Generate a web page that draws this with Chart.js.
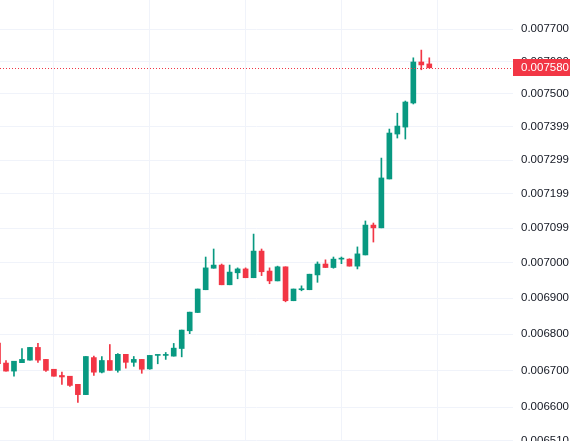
<!DOCTYPE html>
<html>
<head>
<meta charset="utf-8">
<script src="https://cdn.jsdelivr.net/npm/chart.js@4.4.0/dist/chart.umd.min.js"></script>
<style>
  html, body { margin: 0; padding: 0; background: #ffffff; }
  #wrap { width: 570px; height: 441px; position: relative; }
</style>
</head>
<body>
<div id="wrap"><canvas id="myChart"></canvas></div>
<script>
// candle index (one bar per period), -1 is the half-hidden one on the left edge
var candleIndex = [-1, 0, 1, 2, 3, 4, 5, 6, 7, 8, 9, 10, 11, 12, 13, 14, 15, 16, 17, 18, 19,
  20, 21, 22, 23, 24, 25, 26, 27, 28, 29, 30, 31, 32, 33, 34, 35, 36, 37, 38, 39,
  40, 41, 42, 43, 44, 45, 46, 47, 48, 49, 50, 51, 52, 53];

var opens = [0.006775, 0.006720, 0.006698, 0.006721, 0.006728, 0.006763, 0.006730, 0.006703, 0.006686, 0.006684, 0.006662,
  0.006634, 0.006735, 0.006695, 0.006727, 0.006700, 0.006744, 0.006722, 0.006730, 0.006704, 0.006741,
  0.006741, 0.006739, 0.006760, 0.006809, 0.006860, 0.006924, 0.006985, 0.006994, 0.006938, 0.006972,
  0.006983, 0.006958, 0.007034, 0.006977, 0.006949, 0.006989, 0.006893, 0.006924, 0.006924, 0.006966,
  0.006997, 0.006987, 0.007011, 0.007011, 0.006991, 0.007023, 0.007109, 0.007101, 0.007244, 0.007378,
  0.007399, 0.007472, 0.007598, 0.007592];
var highs = [0.006776, 0.006727, 0.006725, 0.006760, 0.006763, 0.006774, 0.006730, 0.006703, 0.006695, 0.006684, 0.006662,
  0.006738, 0.006739, 0.006738, 0.006771, 0.006746, 0.006744, 0.006738, 0.006730, 0.006741, 0.006742,
  0.006749, 0.006774, 0.006811, 0.006861, 0.006926, 0.007017, 0.007040, 0.006997, 0.006994, 0.006986,
  0.006986, 0.007083, 0.007040, 0.006986, 0.006991, 0.006989, 0.006926, 0.006935, 0.006968, 0.007003,
  0.007009, 0.007017, 0.007017, 0.007012, 0.007046, 0.007121, 0.007115, 0.007306, 0.007393, 0.007441,
  0.007478, 0.007611, 0.007635, 0.007611];
var lows = [0.006718, 0.006698, 0.006684, 0.006721, 0.006728, 0.006722, 0.006697, 0.006684, 0.006662, 0.006656, 0.006613,
  0.006634, 0.006686, 0.006693, 0.006700, 0.006695, 0.006706, 0.006711, 0.006692, 0.006703, 0.006718,
  0.006730, 0.006739, 0.006737, 0.006801, 0.006860, 0.006924, 0.006985, 0.006938, 0.006938, 0.006955,
  0.006958, 0.006958, 0.006964, 0.006941, 0.006949, 0.006890, 0.006893, 0.006921, 0.006924, 0.006945,
  0.006987, 0.006985, 0.006998, 0.006991, 0.006983, 0.007023, 0.007060, 0.007101, 0.007244, 0.007366,
  0.007363, 0.007469, 0.007574, 0.007580];
var closes = [0.006718, 0.006698, 0.006725, 0.006730, 0.006763, 0.006728, 0.006700, 0.006684, 0.006682, 0.006659, 0.006634,
  0.006738, 0.006695, 0.006727, 0.006700, 0.006744, 0.006722, 0.006730, 0.006703, 0.006741, 0.006742,
  0.006742, 0.006761, 0.006811, 0.006861, 0.006926, 0.006986, 0.006994, 0.006938, 0.006974, 0.006983,
  0.006958, 0.007034, 0.006975, 0.006949, 0.006989, 0.006893, 0.006926, 0.006925, 0.006968, 0.006997,
  0.006987, 0.007011, 0.007012, 0.006991, 0.007026, 0.007109, 0.007101, 0.007247, 0.007381, 0.007402,
  0.007475, 0.007598, 0.007589, 0.007580];

// price axis (log scale, tradingview-style rounding on the labels)
var yTickValues = [0.00651, 0.0066, 0.0067, 0.0068, 0.0069, 0.007, 0.0071, 0.0072, 0.0073, 0.0074, 0.0075, 0.0076, 0.0077];
var yTickLabels = ['0.006510', '0.006600', '0.006700', '0.006800', '0.006900', '0.007000', '0.007099',
  '0.007199', '0.007299', '0.007399', '0.007500', '0.007600', '0.007700'];
// vertical time grid lines fall on these candles
var timeGridCandles = [6, 18, 30, 42, 54];

var upColor = '#089981';
var downColor = '#f23645';
var gridColor = '#f0f3fa';
var lastPrice = closes[closes.length - 1];

let wickData = [];
let bodyData = [];
let candleColors = [];
candleIndex.forEach((x, i) => {
  wickData.push({ x: x, y: [lows[i], highs[i]] });
  bodyData.push({ x: x, y: [opens[i], closes[i]] });
  candleColors.push(closes[i] >= opens[i] ? upColor : downColor);
});

/* last price: dotted line across the pane + red tag on the axis */
const lastPriceTag = {
  id: 'lastPriceTag',
  afterDatasetsDraw(chart) {
    const ctx = chart.ctx;
    const y = Math.round(chart.scales.y.getPixelForValue(lastPrice)) + 0.5;
    ctx.save();
    ctx.strokeStyle = downColor;
    ctx.lineWidth = 1;
    ctx.setLineDash([1, 2]);
    ctx.beginPath();
    ctx.moveTo(chart.chartArea.left, y);
    ctx.lineTo(chart.chartArea.right, y);
    ctx.stroke();
    ctx.restore();
  },
  afterDraw(chart) {
    const ctx = chart.ctx;
    const y = chart.scales.y.getPixelForValue(lastPrice);
    const left = chart.chartArea.right;
    ctx.save();
    ctx.fillStyle = downColor;
    ctx.fillRect(left, Math.round(y - 8.5), chart.width - left, 17);
    ctx.fillStyle = '#ffffff';
    ctx.font = '11.5px "Liberation Sans", Arial, sans-serif';
    ctx.textBaseline = 'middle';
    ctx.textAlign = 'left';
    ctx.fillText(lastPrice.toFixed(6), left + 8, y);
    ctx.restore();
  }
};

let ctx = document.getElementById('myChart');

let candleChart = new Chart(ctx, {
  type: 'bar',
  data: {
    datasets: [{
      label: 'wick',
      data: wickData,
      backgroundColor: candleColors,
      barThickness: 1,
      minBarLength: 1,
      order: 2
    }, {
      label: 'body',
      data: bodyData,
      backgroundColor: candleColors,
      barThickness: 5,
      minBarLength: 1,
      order: 1
    }]
  },
  options: {
    responsive: true,
    maintainAspectRatio: false,
    animation: false,
    layout: { padding: 0 },
    datasets: { bar: { grouped: false, borderWidth: 0 } },
    plugins: {
      legend: { display: false },
      tooltip: { enabled: false }
    },
    scales: {
      x: {
        type: 'linear',
        min: -0.751,
        max: 63.48,
        offset: false,
        grid: { color: gridColor, drawTicks: false, offset: false },
        border: { display: false },
        ticks: { display: false },
        afterBuildTicks: (scale) => { scale.ticks = timeGridCandles.map(v => ({ value: v })); },
        afterFit: (scale) => { scale.height = 0; }
      },
      y: {
        type: 'logarithmic',
        position: 'right',
        min: 0.0065097,
        max: 0.0077926,
        bounds: 'data',
        grid: { color: gridColor, drawTicks: false },
        border: { display: false },
        ticks: {
          autoSkip: false,
          padding: 8,
          color: '#131722',
          font: { family: '"Liberation Sans", Arial, sans-serif', size: 11.5 },
          callback: (value, index) => yTickLabels[index]
        },
        afterBuildTicks: (scale) => { scale.ticks = yTickValues.map(v => ({ value: v })); },
        afterFit: (scale) => { scale.width = 57; scale.paddingTop = 0; scale.paddingBottom = 0; }
      }
    }
  },
  plugins: [lastPriceTag]
});
</script>
</body>
</html>
